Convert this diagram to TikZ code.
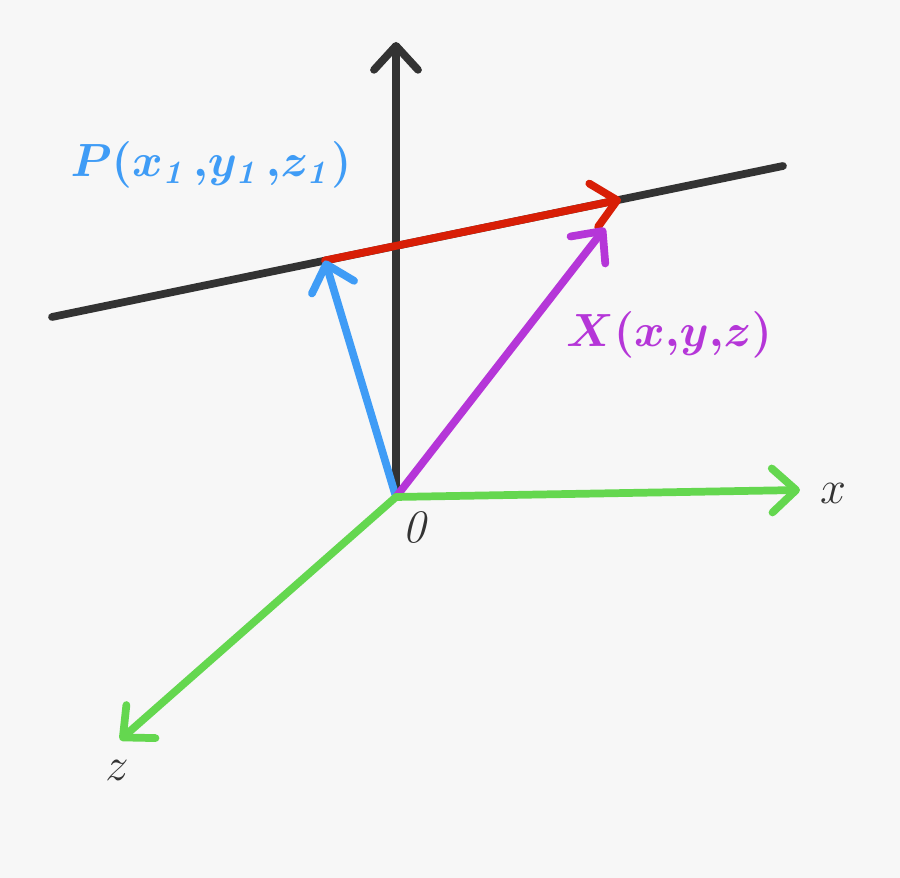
\RequirePackage{fix-cm}
\documentclass[tikz,border=0pt]{standalone}
\usepackage{amsmath}
\usepackage{amssymb}
\usetikzlibrary{arrows.meta}
\definecolor{axisgray}{HTML}{333333}
\definecolor{vecblue}{HTML}{3F9CF6}
\definecolor{vecpurple}{HTML}{B536D8}
\definecolor{vecred}{HTML}{D81E06}
\definecolor{axisgreen}{HTML}{64D74F}
\definecolor{bggray}{HTML}{F7F7F7}

\begin{document}
\begin{tikzpicture}[vec/.style={line width=4.4pt,line cap=round,
    -{Straight Barb[length=4.8mm,width=8.8mm,line cap=round,line join=round]}},
  lbl/.style={font=\fontsize{26.5}{32}\selectfont}]%
  \fill[bggray] (0., 0.) rectangle (18., 17.56);
  \useasboundingbox (0., 0.) rectangle (18., 17.56);
  \coordinate (O) at (7.92, 7.62);
  \coordinate (Ytop) at (7.92, 16.72);
  \coordinate (L1) at (1.04, 11.22);
  \coordinate (L2) at (15.66, 14.24);
  \coordinate (Pt) at (6.50, 12.35);
  \coordinate (Qt) at (12.42, 13.57);
  \coordinate (Xt) at (12.10, 13.00);
  \coordinate (Xtip) at (16.00, 7.76);
  \coordinate (Ztip) at (2.40, 2.76);
  \draw[line width=4.4pt,line cap=round,axisgray] (L1)--(L2);
  \draw[vec,axisgray] (O)--(Ytop);
  \draw[vec,vecred] (Pt)--(Qt);
  \draw[vec,vecblue] (O)--(Pt);
  \draw[vec,vecpurple] (O)--(Xt);
  \draw[vec,axisgreen] (O)--(Xtip);
  \draw[vec,axisgreen] (O)--(Ztip);
  \node[lbl,text=vecblue] (Plabel) at (4.22, 14.26) {$\boldsymbol{P(x_{\mathit{1}}\mkern2mu{,}y_{\mathit{1}}\mkern2mu{,}z_{\mathit{1}})}$};
  \node[lbl,text=vecpurple] (Xlabel) at (13.38, 10.86) {$\boldsymbol{X(x{,}y{,}z)}$};
  \node[lbl,text=axisgray] (Olabel) at (8.34, 7.02) {$\mathit{0}$};
  \node[lbl,text=axisgray] (xlabel) at (16.66, 7.70) {$x$};
  \node[lbl,text=axisgray] (zlabel) at (2.34, 2.16) {$z$};
\end{tikzpicture}
\end{document}
